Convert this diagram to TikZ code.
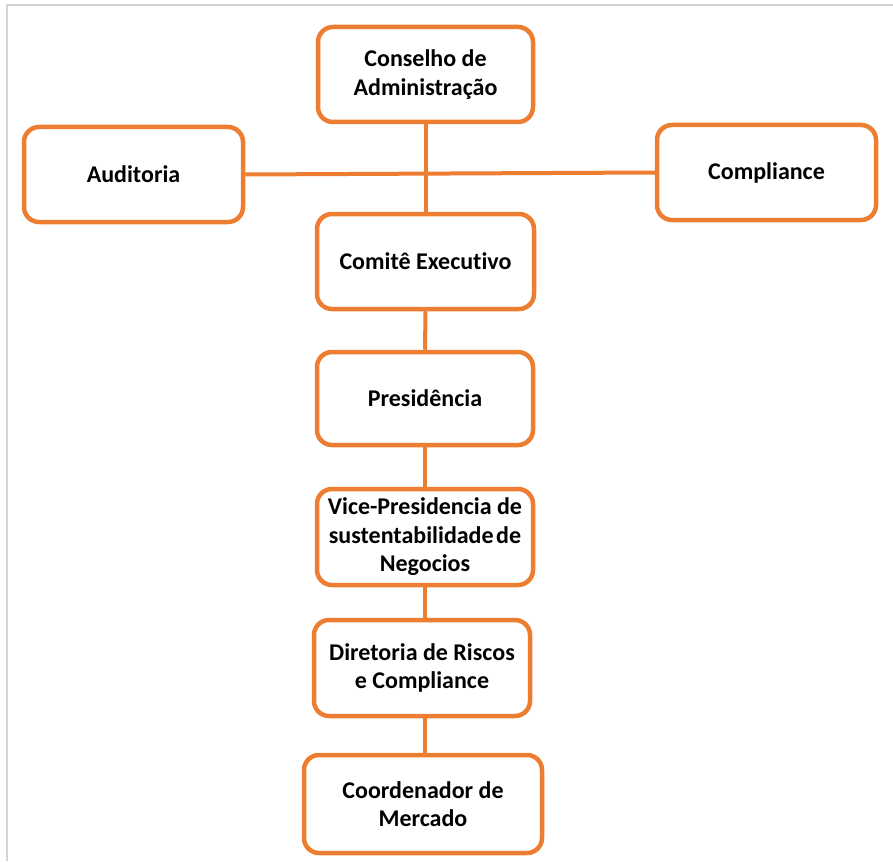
\documentclass[tikz,border=0pt]{standalone}
\usepackage{fontspec}
\setmainfont[Ligatures=CommonOff]{Carlito}
\definecolor{orgline}{HTML}{ED7D31}
\definecolor{framegray}{HTML}{D4D4D4}
\tikzset{
  orgbox/.style={draw=orgline, line width=4.5pt, rounded corners=15pt, fill=white,
    inner sep=0pt, align=center, font=\bfseries\fontsize{24}{28.5}\selectfont},
  orglink/.style={draw=orgline, line width=4pt},
  frameline/.style={draw=framegray, line width=1.2pt}
}
\begin{document}
\begin{tikzpicture}[x=1pt,y=-1pt]
\useasboundingbox (0,0) rectangle (893,861);
\fill[white] (0,0) rectangle (893,861);
\coordinate (fbl) at (7,861);
\coordinate (ftl) at (7,5);
\coordinate (ftr) at (893,5);
\draw[frameline] (fbl) -- (ftl) -- (ftr);

\node[orgbox, minimum width=215pt, minimum height=95pt] (cons) at (425.5,74.5) {Conselho de\\Administração};
\node[orgbox, minimum width=219pt, minimum height=95pt] (aud) at (133.5,174.5) {Auditoria};
\node[orgbox, minimum width=219pt, minimum height=95pt] (comp) at (766.5,172.5) {Compliance};
\node[orgbox, minimum width=217pt, minimum height=95pt] (comi) at (425.5,261.5) {Comitê Executivo};
\node[orgbox, minimum width=216pt, minimum height=93pt] (pres) at (425,398.5) {Presidência};
\node[orgbox, minimum width=216pt, minimum height=96pt] (vice) at (425,537) {Vice-Presidencia de\\sustentabilidade\kern-0.12em{} de\\Negocios};
\node[orgbox, minimum width=216pt, minimum height=96pt] (dir) at (422,668) {Diretoria de Riscos\\e Compliance};
\node[orgbox, minimum width=238pt, minimum height=98pt] (coord) at (423,804) {Coordenador de\\Mercado};

\draw[orglink] (aud.east) -- (comp.west);
\draw[orglink] (cons.south) -- (comi.north);
\draw[orglink] (comi.south) -- (pres.north);
\draw[orglink] (pres.south) -- (vice.north);
\draw[orglink] (vice.south) -- (vice.south |- dir.north);
\draw[orglink] (dir.south -| vice.south) -- (vice.south |- coord.north);
\end{tikzpicture}
\end{document}
